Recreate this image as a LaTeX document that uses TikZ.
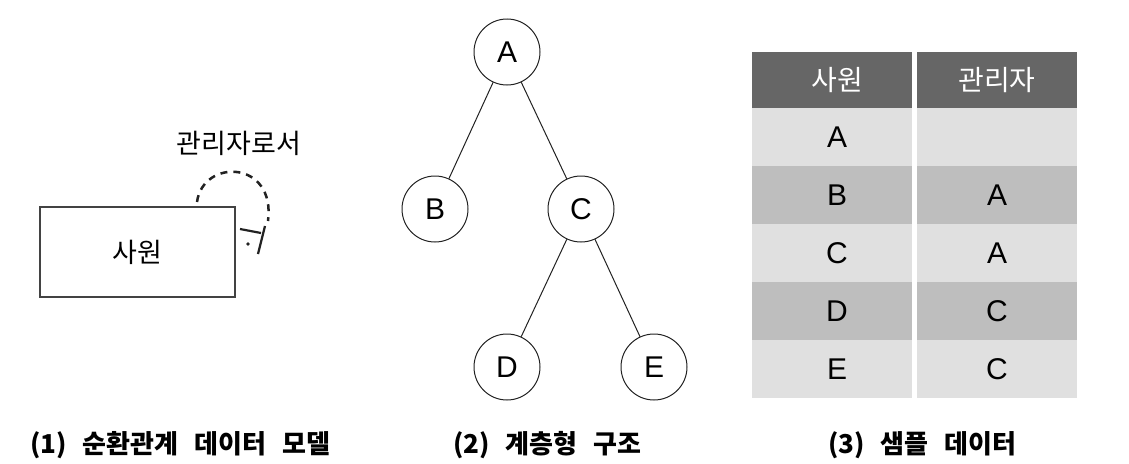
\documentclass[tikz,border=0pt]{standalone}
\usepackage{fontspec}
\setmainfont{Liberation Sans}
\newfontfamily\kr{Noto Sans CJK KR}
\definecolor{hdr}{HTML}{666666}
\definecolor{lite}{HTML}{E0E0E0}
\definecolor{dark}{HTML}{BEBEBE}
\definecolor{ink}{HTML}{222222}
\newcommand{\capgap}{\hspace{16pt}}
\tikzset{
  tnode/.style={draw=ink, circle, line width=1pt, minimum size=66pt, inner sep=0pt, font=\fontsize{30}{36}\selectfont},
  tedge/.style={draw=ink, line width=1pt},
  cell/.style={minimum width=160pt, minimum height=58pt, inner sep=0pt, text=black, font=\fontsize{30}{36}\selectfont},
  hcell/.style={cell, fill=hdr, minimum height=56pt, text=white, font=\kr\fontsize{28}{34}\selectfont},
  lcell/.style={cell, fill=lite},
  dcell/.style={cell, fill=dark},
  caption/.style={anchor=base west, inner sep=0pt, font=\kr\bfseries\fontsize{26}{31}\selectfont},
  rel/.style={draw=ink, line width=2.5pt, dash pattern=on 7pt off 6pt},
  foot/.style={draw=ink, line width=2.2pt},
}
\begin{document}
\begin{tikzpicture}[x=1pt,y=-1pt]
\useasboundingbox (0,0) rectangle (1129,463);
% (1) entity with recursive relationship
\node[draw=ink!85, line width=1.3pt, minimum width=195pt, minimum height=90pt, inner sep=0pt,
      font=\kr\fontsize{27}{31}\selectfont] (emp) at (137.5,252) {사원};
\node[inner sep=0pt, font=\kr\fontsize{27}{32}\selectfont] (rlabel) at (239,143) {관리자로서};
\coordinate (rs) at (197,202);
\coordinate (re) at (268,221);
\draw[rel] (rs) .. controls (203,158) and (276,160) .. (re);
\coordinate (f1) at (240,229);
\coordinate (f2) at (261,233);
\coordinate (f3) at (265,226);
\coordinate (f4) at (258,254);
\draw[foot] (f1) -- (f2);
\draw[foot] (f3) -- (f4);
\fill[ink] (248,244) circle (1.8pt);
% (2) hierarchy
\node[tnode] (A) at (507,52) {A};
\node[tnode] (B) at (435,209) {B};
\node[tnode] (C) at (581,209) {C};
\node[tnode] (D) at (507,367) {D};
\node[tnode] (E) at (654,367) {E};
\draw[tedge] (A) -- (B);
\draw[tedge] (A) -- (C);
\draw[tedge] (C) -- (D);
\draw[tedge] (C) -- (E);
% (3) sample table
\node[hcell] (h1) at (832,80) {\hspace{10pt}사원};
\node[hcell] (h2) at (997,80) {관리자};
\node[lcell] (a1) at (832,137) {\hspace{10pt}A};
\node[lcell] (a2) at (997,137) {};
\node[dcell] (b1) at (832,195) {\hspace{10pt}B};
\node[dcell] (b2) at (997,195) {A};
\node[lcell] (c1) at (832,253) {\hspace{10pt}C};
\node[lcell] (c2) at (997,253) {A};
\node[dcell] (d1) at (832,311) {\hspace{10pt}D};
\node[dcell] (d2) at (997,311) {C};
\node[lcell] (e1) at (832,369) {\hspace{10pt}E};
\node[lcell] (e2) at (997,369) {C};
% captions
\node[caption] (cap1) at (30,453) {(1)\capgap 순환관계\capgap 데이터\capgap 모델};
\node[caption] (cap2) at (453,453) {(2)\capgap 계층형\capgap 구조};
\node[caption] (cap3) at (828,453) {(3)\capgap 샘플\capgap 데이터};
\end{tikzpicture}
\end{document}
